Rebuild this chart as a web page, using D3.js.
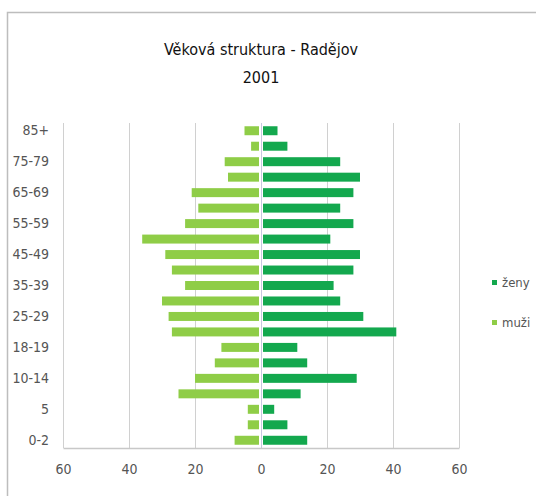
<!DOCTYPE html>
<html>
<head>
<meta charset="utf-8">
<script src="https://cdn.jsdelivr.net/npm/d3@7"></script>
<style>
  body { margin: 0; background: #fff; }
  svg text { font-family: "Liberation Sans Narrow", "DejaVu Sans Condensed", "Liberation Sans", sans-serif; }
</style>
</head>
<body>
<div id="chart"></div>
<script>
// věkové skupiny, zdola nahoru
const ageGroups = ["0-2", "3-4", "5", "6-9", "10-14", "15-17", "18-19", "20-24", "25-29", "30-34",
  "35-39", "40-44", "45-49", "50-54", "55-59", "60-64", "65-69", "70-74", "75-79", "80-84", "85+"];
const zeny = [14, 8, 4, 12, 29, 14, 11, 41, 31, 24, 22, 28, 30, 21, 28, 24, 28, 30, 24, 8, 5];
const muzi = [8, 4, 4, 25, 20, 14, 12, 27, 28, 30, 23, 27, 29, 36, 23, 19, 21, 10, 11, 3, 5];
const xTicks = [-60, -40, -20, 0, 20, 40, 60];
const shownLabels = ["0-2", "5", "10-14", "18-19", "25-29", "35-39", "45-49", "55-59", "65-69", "75-79", "85+"];

const width = 536, height = 496;
const svg = d3.select('#chart').append('svg')
  .attr('width', width).attr('height', height);

// rámeček grafu
svg.append('path')
  .attr('d', `M7.5,${height}V12.5H${width}`)
  .attr('fill', 'none').attr('stroke', '#bdbdbd').attr('stroke-width', 1.5);

// nadpis
svg.append('text').attr('x', 261).attr('y', 55).attr('text-anchor', 'middle')
  .attr('font-size', 16).attr('fill', '#111').text('Věková struktura - Radějov');
svg.append('text').attr('x', 261).attr('y', 83).attr('text-anchor', 'middle')
  .attr('font-size', 16).attr('fill', '#111').text('2001');

const x = d3.scaleLinear().domain([-60, 60]).range([63, 459]);
const y = d3.scaleBand().domain(ageGroups).range([448, 123]).paddingInner(0.42).paddingOuter(0.21);

// mřížka
svg.append('g').selectAll('line')
  .data(xTicks).enter().append('line')
  .attr('x1', d => x(d) + 0.5).attr('x2', d => x(d) + 0.5)
  .attr('y1', 123).attr('y2', 448)
  .attr('stroke', d => d === 0 ? '#c8c8e0' : '#d0d0d0');

// osa x
const xAxis = d3.axisBottom(x).tickValues(xTicks).tickSize(0).tickPadding(16)
  .tickFormat(d => Math.abs(d));
const gx = svg.append('g').attr('transform', 'translate(0,448)').call(xAxis);
gx.select('.domain').attr('stroke', '#c8c8c8').attr('stroke-width', 1.5);
gx.selectAll('text').attr('font-size', 14).attr('fill', '#555').style('font-family', null);

// osa y
const yAxis = d3.axisLeft(y).tickSize(0).tickPadding(8)
  .tickFormat(d => shownLabels.includes(d) ? d : '');
const gy = svg.append('g').attr('transform', 'translate(57,0)').call(yAxis);
gy.select('.domain').remove();
gy.selectAll('text').attr('font-size', 14).attr('fill', '#555').style('font-family', null);

// muži (vlevo)
svg.append('g').selectAll('rect')
  .data(muzi).enter().append('rect')
  .attr('x', d => x(-d))
  .attr('y', (d, i) => y(ageGroups[i]))
  .attr('width', d => x(0) - x(-d) - 2)
  .attr('height', y.bandwidth())
  .attr('fill', '#8fcd47');

// ženy (vpravo)
svg.append('g').selectAll('rect')
  .data(zeny).enter().append('rect')
  .attr('x', x(0) + 2)
  .attr('y', (d, i) => y(ageGroups[i]))
  .attr('width', d => x(d) - x(0) - 2)
  .attr('height', y.bandwidth())
  .attr('fill', '#13a84e');

// legenda
const legend = [["ženy", "#13a84e"], ["muži", "#8fcd47"]];
const lg = svg.append('g').selectAll('g').data(legend).enter().append('g')
  .attr('transform', (d, i) => `translate(492,${283 + i * 40})`);
lg.append('rect').attr('x', 0).attr('y', -3).attr('width', 5).attr('height', 5).attr('fill', d => d[1]);
lg.append('text').attr('x', 10).attr('y', 4).attr('font-size', 13).attr('fill', '#555').text(d => d[0]);
</script>
</body>
</html>
